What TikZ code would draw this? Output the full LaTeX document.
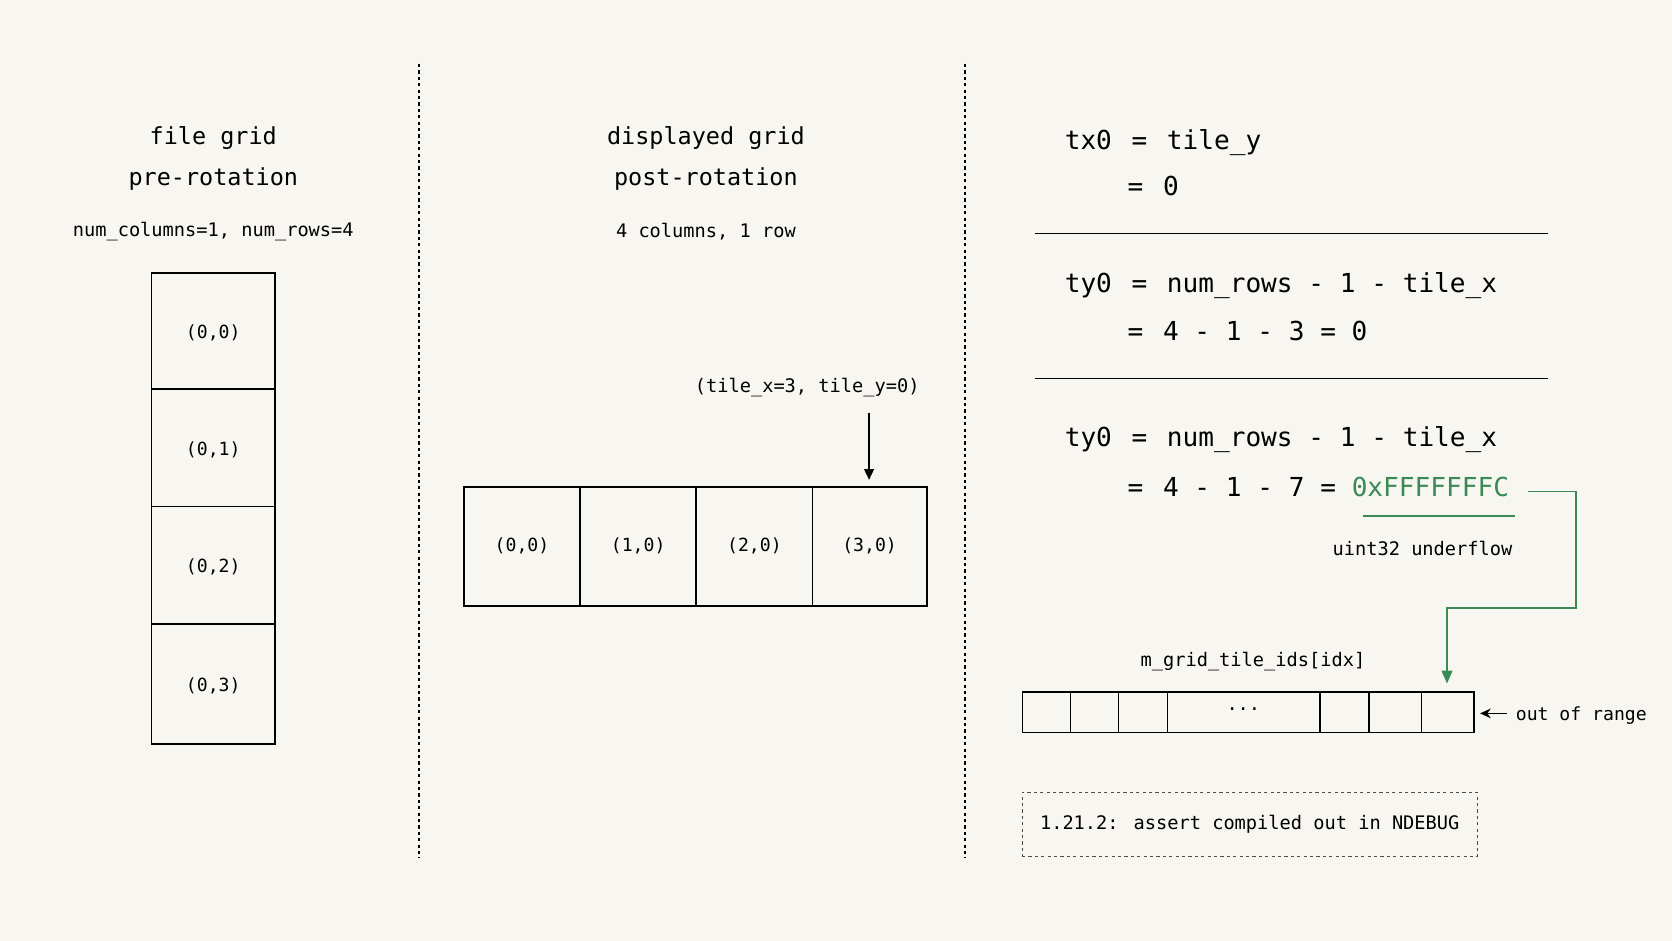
\documentclass[tikz,border=0pt]{standalone}
\usepackage{fontspec}
\setmainfont{DejaVu Sans Mono}
\usetikzlibrary{arrows.meta}
\definecolor{bg}{HTML}{F8F6F1}
\definecolor{grn}{HTML}{3A8A55}
\begin{document}
\begin{tikzpicture}[x=1pt,y=-1pt,
  t/.style={font=\fontsize{22}{26}\selectfont},
  s/.style={font=\fontsize{17.5}{21}\selectfont},
  c/.style={font=\fontsize{17}{20}\selectfont},
  e/.style={font=\fontsize{24.5}{28}\selectfont},
  cell/.style={draw,line width=1.6pt},
  sep/.style={dashed,line width=1.1pt},
  arr/.style={-{Triangle[length=10pt,width=9pt]},line width=1.5pt}]
\fill[bg] (0,0) rectangle (1568,882);
\useasboundingbox (0,0) rectangle (1568,882);
\draw[sep] (393,60) -- (393,805);
\draw[sep] (905,60) -- (905,805);
% left
\node[t] (lt1) at (200,129) {file grid};
\node[t] (lt2) at (200,168) {pre-rotation};
\node[s] (ls) at (200,217) {num\_columns=1, num\_rows=4};
\foreach \i/\ya/\yb in {0/256/365,1/365/475,2/475/585,3/585/698}{
  \draw[cell] (142,\ya) rectangle (258,\yb);
  \node[c] (l\i) at (200,{(\ya+\yb)/2+2}) {(0,\i)};}
% middle
\node[t] (mt1) at (662,129) {displayed grid};
\node[t] (mt2) at (662,168) {post-rotation};
\node[s] (ms) at (662,217) {4 columns, 1 row};
\foreach \i/\xa/\xb in {0/435/544,1/544/653,2/653/762,3/762/869}{
  \draw[cell] (\xa,457) rectangle (\xb,568);
  \node[c] (m\i) at ({(\xa+\xb)/2},512) {(\i,0)};}
\node[s] (tl) at (757,363) {(tile\_x=3, tile\_y=0)};
\coordinate (ta) at (815,387);
\coordinate (tb) at (815,450);
\draw[arr] (ta) -- (tb);
% right equations
\node[e,anchor=base west] (e1) at (995,140) {tx0\hspace{0.75em}=\hspace{0.75em}tile\_y};
\node[e,anchor=base west] (e2) at (1054,183) {=\hspace{0.75em}0};
\draw[line width=1.6pt] (971,219) -- (1452,219);
\node[e,anchor=base west] (e3) at (995,274) {ty0\hspace{0.75em}=\hspace{0.75em}num\_rows - 1 - tile\_x};
\node[e,anchor=base west] (e4) at (1054,319) {=\hspace{0.75em}4 - 1 - 3 = 0};
\draw[line width=1.6pt] (971,355) -- (1452,355);
\node[e,anchor=base west] (e5) at (995,419) {ty0\hspace{0.75em}=\hspace{0.75em}num\_rows - 1 - tile\_x};
\node[e,anchor=base west] (e6) at (1054,466) {=\hspace{0.75em}4 - 1 - 7 = \textcolor{grn}{0xFFFFFFFC}};
\draw[grn,line width=1.6pt] (1278,484) -- (1421,484);
\node[s] (uf) at (1334,514) {uint32 underflow};
\coordinate (g0) at (1433,461);
\coordinate (g1) at (1478,461);
\coordinate (g2) at (1478,570);
\coordinate (g3) at (1357,570);
\coordinate (g4) at (1357,641);
\draw[grn,line width=1.6pt,-{Triangle[length=12pt,width=10pt]}] (g0) -- (g1) -- (g2) -- (g3) -- (g4);
% array
\node[s] (al) at (1175,620) {m\_grid\_tile\_ids[idx]};
\draw[cell] (959,649) rectangle (1382,687);
\foreach \x in {1004,1049,1095,1238,1284,1333}{\draw[line width=1.6pt] (\x,649) -- (\x,687);}
\node[s] (dots) at (1166,665) {...};
\node[s,anchor=west,font=\fontsize{17}{20}\selectfont] (oor) at (1418,671) {out of range};
\coordinate (oa) at (1413,669);
\coordinate (ob) at (1388,669);
\draw[-{Stealth[length=10pt,width=9pt]},line width=1.6pt] (oa) -- (ob);
\node[draw,dashed,line width=1.1pt,s,minimum width=427pt,minimum height=60pt,draw=black!70] (nd) at (1172,773) {1.21.2: assert compiled out in NDEBUG};
\end{tikzpicture}
\end{document}
